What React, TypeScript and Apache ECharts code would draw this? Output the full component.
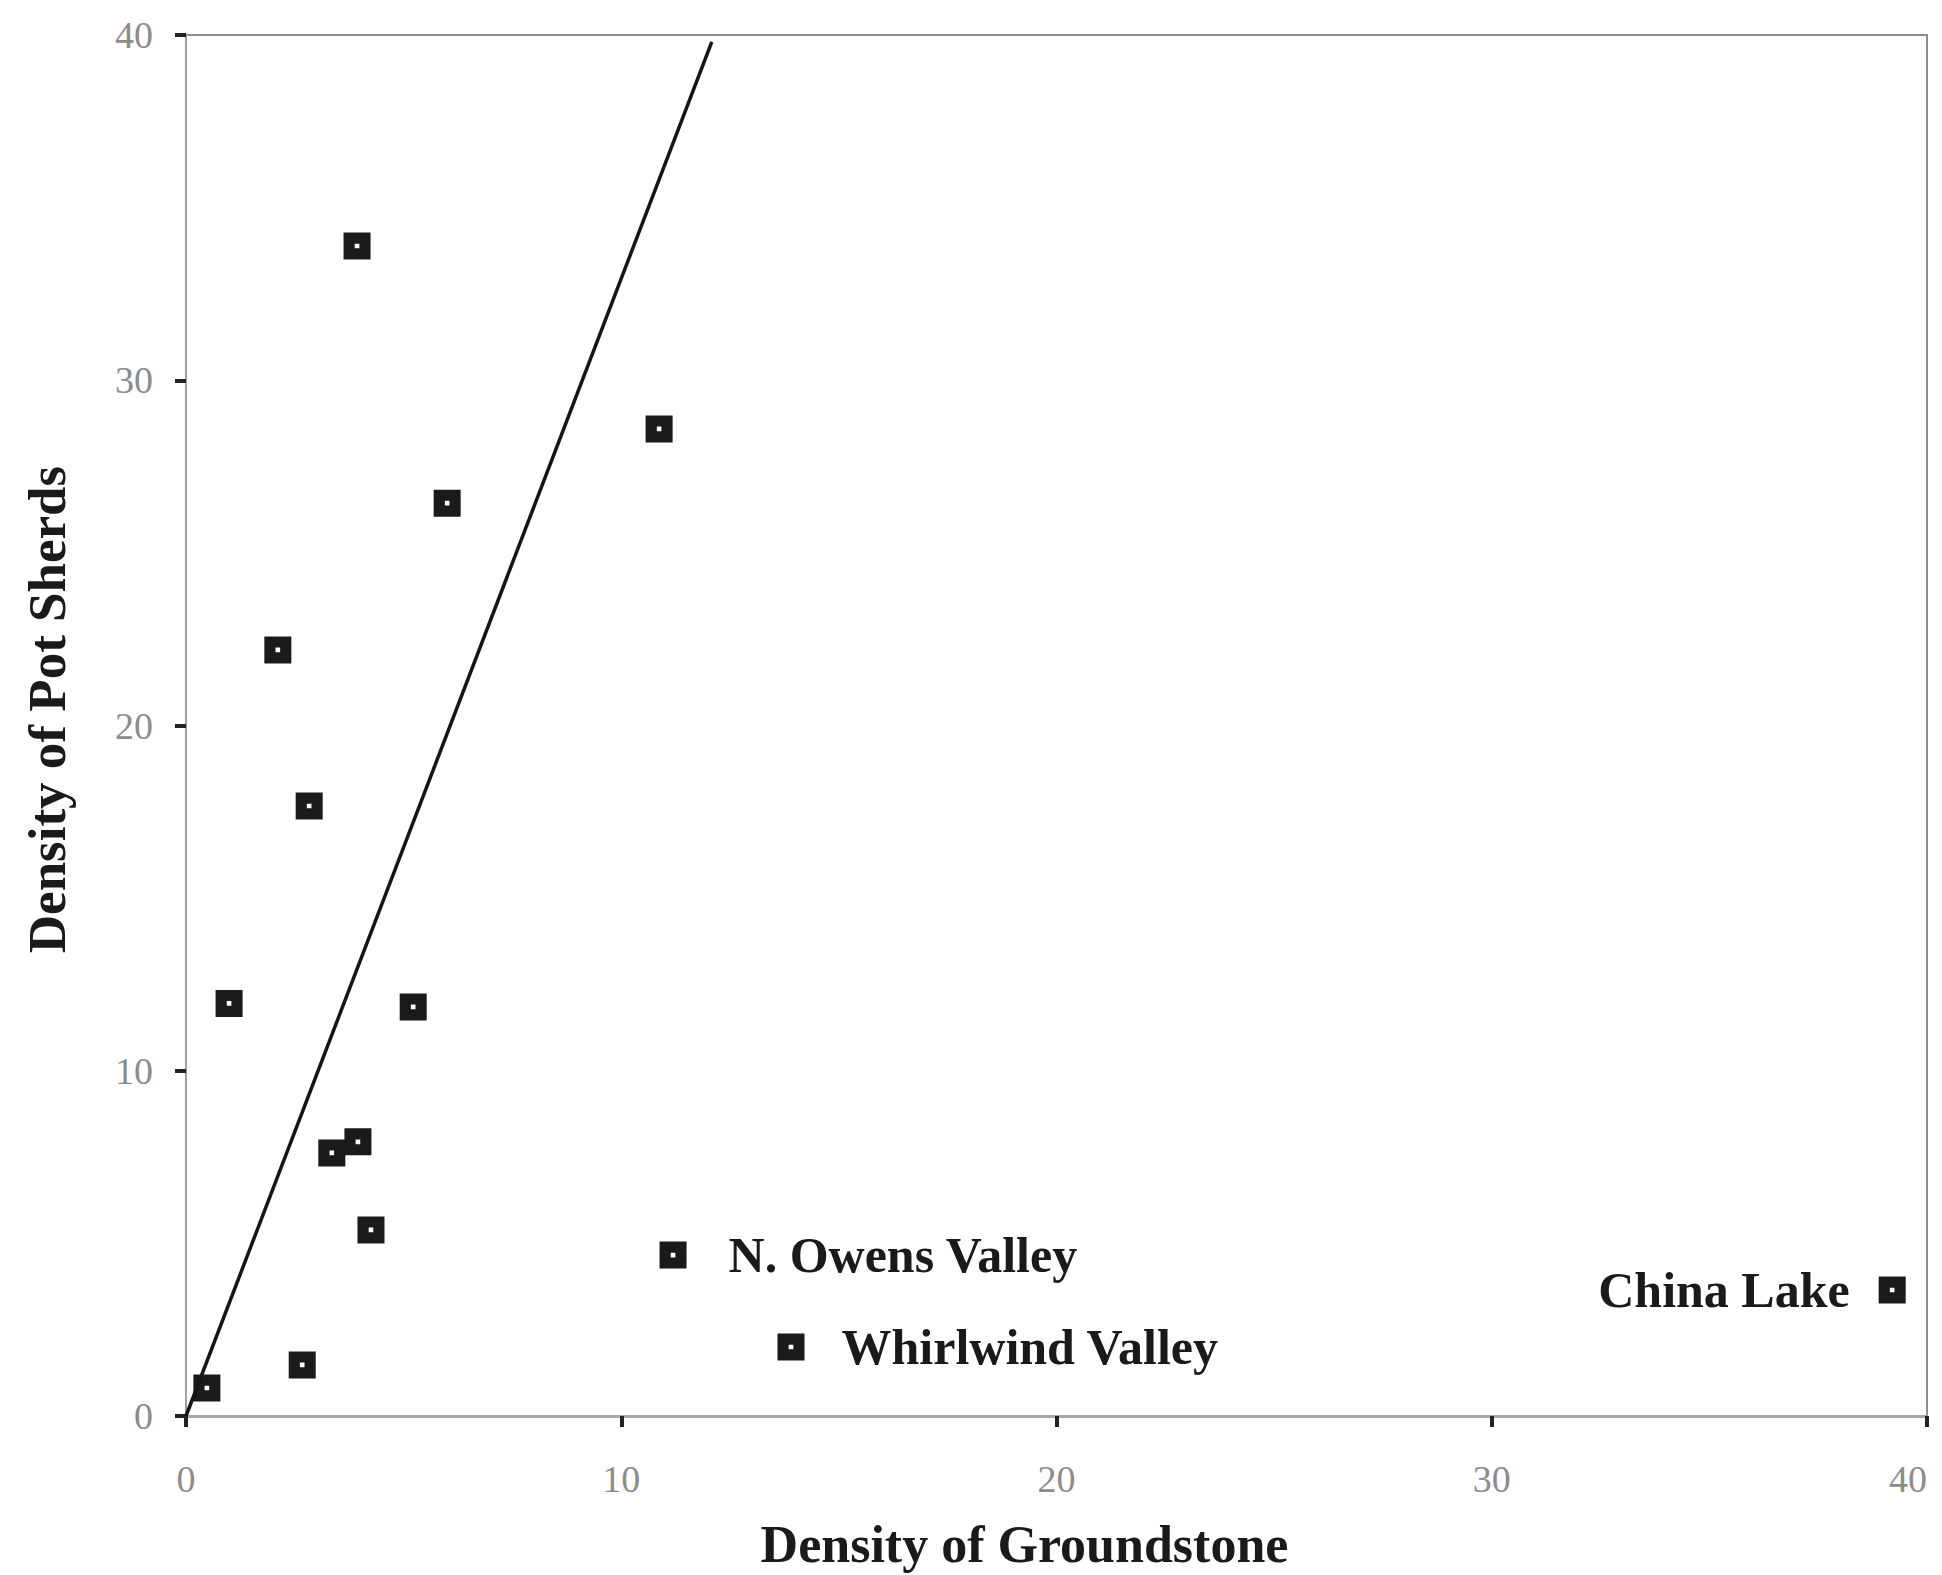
import React, { useEffect, useRef } from "react";
import * as echarts from "echarts";

const sitesX = [3.93, 10.87, 6.0, 2.11, 2.83, 0.99, 5.22, 3.35, 3.95, 4.25, 2.67, 0.48];
const sitesY = [33.89, 28.59, 26.44, 22.19, 17.67, 11.95, 11.85, 7.62, 7.94, 5.39, 1.48, 0.81];

const labeledNames = ["N. Owens Valley", "Whirlwind Valley", "China Lake"];
const labeledX = [11.19, 13.9, 39.2];
const labeledY = [4.66, 2.0, 3.65];
const labeledSide = ["right", "right", "left"];

const trendX = [0, 12.08];
const trendY = [0, 39.8];

const xTitle = "Density of Groundstone";
const yTitle = "Density of Pot Sherds";

const SERIF = "'Liberation Serif', 'Times New Roman', serif";
const MARKER = "path://M0 0H28V28H0ZM11.6 11.6V16.4H16.4V11.6Z";

export default function App() {
  const ref = useRef<HTMLDivElement>(null);

  useEffect(() => {
    document.body.style.margin = "0";
    document.body.style.overflow = "hidden";
    if (!ref.current) return;
    const chart = echarts.init(ref.current, undefined, { renderer: "svg" });

    const axisCommon = {
      type: "value" as const,
      min: 0,
      max: 40,
      interval: 10,
      splitLine: { show: false },
      axisTick: {
        show: true,
        inside: false,
        length: 11,
        lineStyle: { color: "#222", width: 4 },
      },
      axisLabel: {
        color: "#8c8c8c",
        fontFamily: SERIF,
        fontSize: 38,
      },
      nameLocation: "middle" as const,
      nameTextStyle: {
        fontFamily: SERIF,
        fontWeight: "bold" as const,
        fontSize: 52,
        color: "#1a1a1a",
      },
    };

    chart.setOption({
      animation: false,
      backgroundColor: "#ffffff",
      grid: {
        left: 186,
        right: 15,
        top: 35,
        bottom: 159,
        containLabel: false,
        outerBoundsMode: "none",
        show: true,
        borderColor: "#8f8f8f",
        borderWidth: 2,
        backgroundColor: "transparent",
      },
      xAxis: {
        ...axisCommon,
        name: xTitle,
        nameGap: 102,
        nameTextStyle: { ...axisCommon.nameTextStyle, padding: [0, 64, 0, 0] },
        axisLine: { show: true, lineStyle: { color: "#a8a8a8", width: 3 } },
        axisLabel: { ...axisCommon.axisLabel, margin: 44, alignMaxLabel: "right" },
      },
      yAxis: {
        ...axisCommon,
        name: yTitle,
        nameGap: 113,
        nameTextStyle: { ...axisCommon.nameTextStyle, fontSize: 53, padding: [0, 0, 0, 32] },
        axisLine: { show: true, lineStyle: { color: "#a0a0a0", width: 2 } },
        axisLabel: { ...axisCommon.axisLabel, margin: 33 },
      },
      series: [
        {
          type: "line",
          data: trendX.map((x, i) => [x, trendY[i]]),
          symbol: "none",
          lineStyle: { color: "#151515", width: 3.5 },
          silent: true,
        },
        {
          type: "scatter",
          data: sitesX.map((x, i) => [x, sitesY[i]]),
          symbol: MARKER,
          symbolSize: 27,
          itemStyle: { color: "#1a1a1a", opacity: 1 },
        },
        {
          type: "scatter",
          data: labeledX.map((x, i) => ({
            value: [x, labeledY[i]],
            name: labeledNames[i],
            label: {
              show: true,
              position: labeledSide[i],
              distance: i === 0 ? 42 : i === 1 ? 37 : 29,
            },
          })),
          symbol: MARKER,
          symbolSize: 27,
          itemStyle: { color: "#1a1a1a", opacity: 1 },
          label: {
            show: true,
            formatter: (p: any) => p.name,
            fontFamily: SERIF,
            fontWeight: "bold",
            fontSize: 50,
            color: "#1a1a1a",
          },
        },
      ],
    });

    return () => {
      chart.dispose();
    };
  }, []);

  return <div ref={ref} style={{ width: 1942, height: 1575 }} />;
}
